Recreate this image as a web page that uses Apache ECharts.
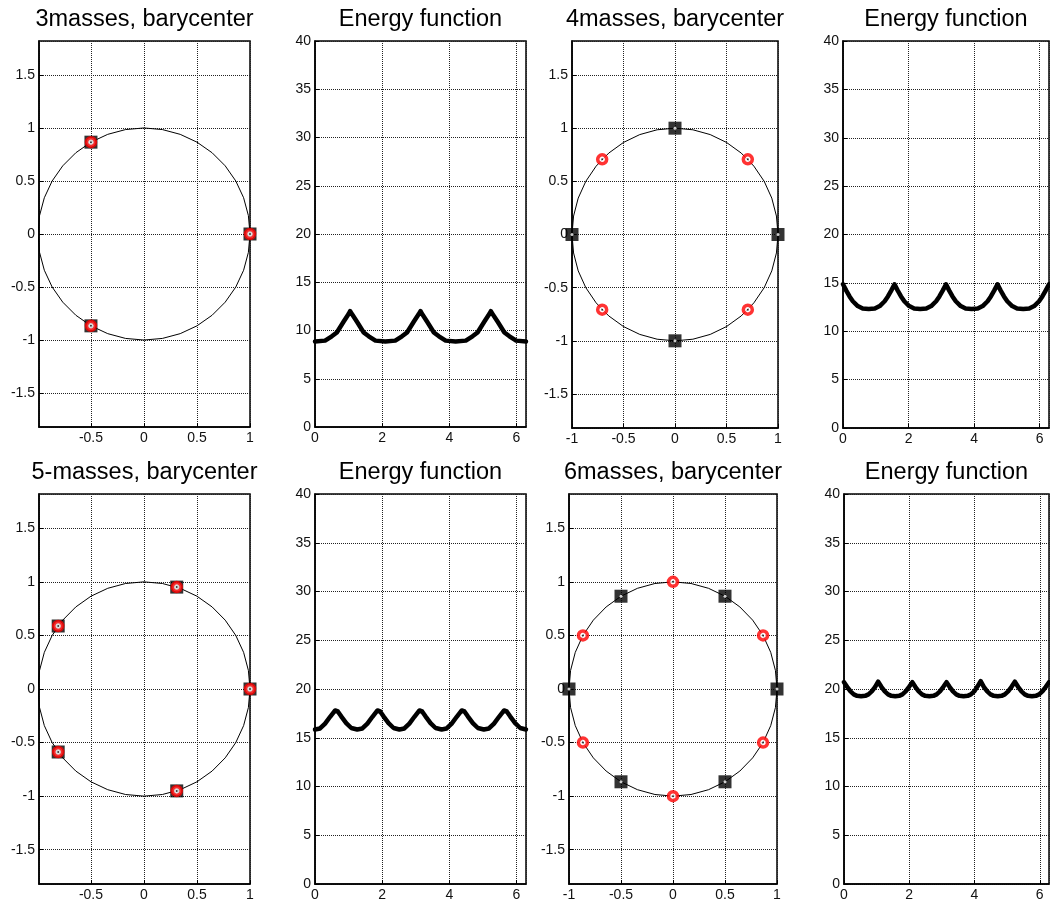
<!DOCTYPE html>
<html>
<head>
<meta charset="utf-8">
<script src="https://cdn.jsdelivr.net/npm/echarts@6/dist/echarts.min.js"></script>
<style>
html,body{margin:0;padding:0;background:#fff;}
#chart{width:1050px;height:906px;}
</style>
</head>
<body>
<div id="chart"></div>
<script>
// ---------- DATA ----------
var titles = ['3masses, barycenter', 'Energy function', '4masses, barycenter', 'Energy function',
              '5-masses, barycenter', 'Energy function', '6masses, barycenter', 'Energy function'];

// unit circle outline (angles in degrees, radius 1)
var circleAngles = [0,10,20,30,40,50,60,70,80,90,100,110,120,130,140,150,160,170,180,
                    190,200,210,220,230,240,250,260,270,280,290,300,310,320,330,340,350,360];
var circleRadius = 1;

// mass positions (x, y)
var squares3 = [[1,0],[-0.5,0.866],[-0.5,-0.866]];
var circles3 = [[1,0],[-0.5,0.866],[-0.5,-0.866]];
var squares4 = [[0,1],[-1,0],[0,-1],[1,0]];
var circles4 = [[0.707,0.707],[-0.707,0.707],[-0.707,-0.707],[0.707,-0.707]];
var squares5 = [[1,0],[0.309,0.951],[-0.809,0.588],[-0.809,-0.588],[0.309,-0.951]];
var circles5 = [[1,0],[0.309,0.951],[-0.809,0.588],[-0.809,-0.588],[0.309,-0.951]];
var squares6 = [[1,0],[0.5,0.866],[-0.5,0.866],[-1,0],[-0.5,-0.866],[0.5,-0.866]];
var circles6 = [[0,1],[0.866,0.5],[0.866,-0.5],[0,-1],[-0.866,-0.5],[-0.866,0.5]];

// energy functions
var energy3X = [0,0.3,0.5,0.65,0.85,1.0,1.047,1.1,1.25,1.45,1.6,1.8,2.094,2.39,2.59,2.74,2.94,3.09,3.142,3.19,3.34,3.54,3.69,3.89,4.189,4.49,4.69,4.84,5.04,5.19,5.236,5.29,5.44,5.64,5.79,5.99,6.283];
var energy3Y = [8.85,8.95,9.4,9.8,10.9,11.7,12.0,11.7,10.9,9.8,9.4,8.95,8.85,8.95,9.4,9.8,10.9,11.7,12.0,11.7,10.9,9.8,9.4,8.95,8.85,8.95,9.4,9.8,10.9,11.7,12.0,11.7,10.9,9.8,9.4,8.95,8.85];

var energy4X = [0,0.1,0.2,0.3,0.45,0.6,0.785,0.97,1.12,1.27,1.37,1.47,1.571,1.67,1.77,1.87,2.02,2.17,2.356,2.54,2.69,2.84,2.94,3.04,3.142,3.24,3.34,3.44,3.59,3.74,3.927,4.11,4.26,4.41,4.51,4.61,4.712,4.81,4.91,5.01,5.16,5.31,5.498,5.68,5.83,5.98,6.08,6.18,6.283];
var energy4Y = [14.85,14.2,13.6,13.1,12.6,12.35,12.3,12.35,12.6,13.1,13.6,14.2,14.85,14.2,13.6,13.1,12.6,12.35,12.3,12.35,12.6,13.1,13.6,14.2,14.85,14.2,13.6,13.1,12.6,12.35,12.3,12.35,12.6,13.1,13.6,14.2,14.85,14.2,13.6,13.1,12.6,12.35,12.3,12.35,12.6,13.1,13.6,14.2,14.85];

var energy5X = [0,0.15,0.3,0.45,0.6,0.628,0.68,0.78,0.93,1.08,1.257,1.41,1.56,1.71,1.86,1.885,1.94,2.04,2.19,2.34,2.513,2.66,2.81,2.96,3.11,3.142,3.19,3.29,3.44,3.59,3.77,3.92,4.07,4.22,4.37,4.398,4.45,4.55,4.7,4.85,5.027,5.18,5.33,5.48,5.63,5.655,5.71,5.81,5.96,6.11,6.283];
var energy5Y = [15.85,15.95,16.45,17.15,17.8,17.9,17.7,17.2,16.5,16.0,15.85,15.95,16.45,17.15,17.8,17.9,17.7,17.2,16.5,16.0,15.85,15.95,16.45,17.15,17.8,17.9,17.7,17.2,16.5,16.0,15.85,15.95,16.45,17.15,17.8,17.9,17.7,17.2,16.5,16.0,15.85,15.95,16.45,17.15,17.8,17.9,17.7,17.2,16.5,16.0,15.85];

var energy6X = [0,0.1,0.2,0.3,0.4,0.524,0.65,0.75,0.85,0.95,1.047,1.15,1.25,1.35,1.45,1.571,1.69,1.79,1.89,1.99,2.094,2.19,2.29,2.39,2.49,2.618,2.74,2.84,2.94,3.04,3.142,3.24,3.34,3.44,3.54,3.665,3.79,3.89,3.99,4.09,4.189,4.29,4.39,4.49,4.59,4.712,4.83,4.93,5.03,5.13,5.236,5.34,5.44,5.54,5.64,5.76,5.88,5.98,6.08,6.18,6.283];
var energy6Y = [20.7,20.2,19.75,19.45,19.3,19.25,19.3,19.45,19.75,20.2,
                20.75,20.2,19.75,19.45,19.3,19.25,19.3,19.45,19.75,20.2,
                20.7,20.2,19.75,19.45,19.3,19.25,19.3,19.45,19.75,20.2,
                20.7,20.2,19.75,19.45,19.3,19.25,19.3,19.45,19.75,20.25,
                20.8,20.2,19.75,19.45,19.3,19.25,19.3,19.45,19.75,20.2,
                20.75,20.2,19.75,19.45,19.3,19.25,19.3,19.45,19.75,20.2,
                20.7];

var energyXMax = 6.283;
var energyYTicks = [0,5,10,15,20,25,30,35,40];

// ---------- LAYOUT ----------
var grids = [
  {left:39,  top:41,  width:211, height:386},
  {left:315, top:41,  width:211, height:386},
  {left:572, top:41,  width:206, height:387},
  {left:843, top:41,  width:206, height:387},
  {left:39,  top:494, width:211, height:390},
  {left:315, top:494, width:211, height:390},
  {left:569, top:494, width:208, height:390},
  {left:844, top:494, width:205, height:390}
];

var FONT = "'Liberation Sans', Arial, Helvetica, sans-serif";

function zip(xs, ys){ var out=[]; for(var i=0;i<xs.length;i++) out.push([xs[i], ys[i]]); return out; }
function circlePts(){ return circleAngles.map(function(a){ var r=a*Math.PI/180; return [circleRadius*Math.cos(r), circleRadius*Math.sin(r)]; }); }

var gridOpts = grids.map(function(g){
  return {left:g.left, top:g.top, width:g.width, height:g.height, show:true,
          borderColor:'#000', borderWidth:1.5, backgroundColor:'#fff', containLabel:false};
});

var splitStyle = {show:true, lineStyle:{color:'#222', type:[1,1], width:1}};
var labelStyle = {color:'#111', fontSize:14, fontFamily:FONT, margin:4};
var tickStyle = {show:true, inside:true, length:4, lineStyle:{color:'#000', width:1}};
var lineAx = {show:true, onZero:false, lineStyle:{color:'#000', width:1.5}};

var xAxes = [], yAxes = [];
for (var i=0;i<8;i++){
  var isCircle = (i % 2 === 0);
  if (isCircle){
    var narrowX = (i === 0 || i === 4);
    var xa = {type:'value', gridIndex:i, min: narrowX ? -0.99 : -1, max:1,
      axisLine:lineAx, axisTick:tickStyle, splitLine:splitStyle,
      axisLabel:Object.assign({}, labelStyle, {showMinLabel: !narrowX, showMaxLabel:true})};
    if (narrowX) xa.splitNumber = 4; else xa.interval = 0.5;
    xAxes.push(xa);
    yAxes.push({type:'value', gridIndex:i, min:-1.82, max:1.82, splitNumber:7,
      axisLine:lineAx, axisTick:tickStyle, splitLine:splitStyle,
      axisLabel:Object.assign({}, labelStyle, {showMinLabel:false, showMaxLabel:false})});
  } else {
    xAxes.push({type:'value', gridIndex:i, min:0, max:energyXMax, interval:2,
      axisLine:lineAx, axisTick:tickStyle, splitLine:splitStyle,
      axisLabel:Object.assign({}, labelStyle, {showMaxLabel:false})});
    yAxes.push({type:'value', gridIndex:i, min:energyYTicks[0], max:energyYTicks[energyYTicks.length-1], interval:5,
      axisLine:lineAx, axisTick:tickStyle, splitLine:splitStyle,
      axisLabel:labelStyle});
  }
}

var series = [];
function addCircle(gi, sq, ci){
  series.push({type:'line', xAxisIndex:gi, yAxisIndex:gi, data:circlePts(), showSymbol:false, symbol:'none',
    lineStyle:{color:'#000', width:1}, silent:true, z:3});
  series.push({type:'scatter', xAxisIndex:gi, yAxisIndex:gi, data:sq, symbol:'rect', symbolSize:13,
    itemStyle:{color:'#000'}, clip:false, silent:true, z:5});
  series.push({type:'scatter', xAxisIndex:gi, yAxisIndex:gi, data:sq, symbol:'circle', symbolSize:3,
    itemStyle:{color:'#fff'}, clip:false, silent:true, z:6});
  series.push({type:'scatter', xAxisIndex:gi, yAxisIndex:gi, data:ci, symbol:'circle', symbolSize:9,
    itemStyle:{color:'#fff', borderColor:'#ff0000', borderWidth:3.5}, clip:false, silent:true, z:7});
  series.push({type:'scatter', xAxisIndex:gi, yAxisIndex:gi, data:ci, symbol:'circle', symbolSize:2,
    itemStyle:{color:'#000'}, clip:false, silent:true, z:8});
}
function addEnergy(gi, xs, ys){
  series.push({type:'line', xAxisIndex:gi, yAxisIndex:gi, data:zip(xs, ys), showSymbol:false, symbol:'none',
    lineStyle:{color:'#000', width:4.5, join:'round', cap:'round'}, silent:true, z:4});
}
addCircle(0, squares3, circles3);
addEnergy(1, energy3X, energy3Y);
addCircle(2, squares4, circles4);
addEnergy(3, energy4X, energy4Y);
addCircle(4, squares5, circles5);
addEnergy(5, energy5X, energy5Y);
addCircle(6, squares6, circles6);
addEnergy(7, energy6X, energy6Y);

var graphics = grids.map(function(g, i){
  return {type:'text', x: g.left + g.width/2, y: g.top - 21.5,
    style:{text:titles[i], fontSize:23.5, fontFamily:FONT, fill:'#000', align:'center', verticalAlign:'middle'}};
});

var chart = echarts.init(document.getElementById('chart'), null, {renderer:'canvas'});
chart.setOption({
  animation:false,
  backgroundColor:'#fff',
  grid:gridOpts,
  xAxis:xAxes,
  yAxis:yAxes,
  series:series,
  graphic:graphics
});
</script>
</body>
</html>
